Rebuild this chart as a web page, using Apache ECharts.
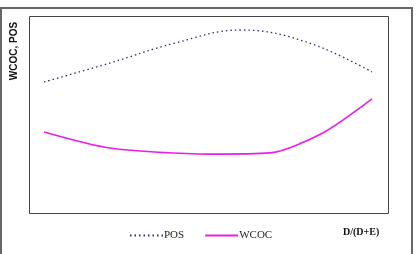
<!DOCTYPE html>
<html>
<head>
<meta charset="utf-8">
<script src="https://cdn.jsdelivr.net/npm/echarts@6/dist/echarts.min.js"></script>
<style>
html, body { margin: 0; padding: 0; background: #fff; }
#chart { width: 417px; height: 254px; }
</style>
</head>
<body>
<div id="chart"></div>
<script>
// D/(D+E) positions (no tick labels in the original, scaled 0..1)
const ratio = [0, 0.2, 0.4, 0.6, 0.8, 1.0];
const posValues = [66.5, 76.1, 86.3, 92.9, 86.8, 71.6];
const wcocRatio = [0, 0.2, 0.5, 0.69, 0.85, 1.0];
const wcocValues = [41.1, 33.0, 29.9, 30.5, 40.6, 57.9];

const chart = echarts.init(document.getElementById("chart"));

chart.setOption({
    animation: false,
    grid: { left: 29, right: 28, top: 16, bottom: 41 },
    xAxis: {
        type: "value",
        min: -0.046,
        max: 1.052,
        axisLine: { show: false },
        axisTick: { show: false },
        axisLabel: { show: false },
        splitLine: { show: false },
    },
    yAxis: {
        type: "value",
        min: 0,
        max: 100,
        axisLine: { show: false },
        axisTick: { show: false },
        axisLabel: { show: false },
        splitLine: { show: false },
    },
    legend: {
        left: 124,
        top: 225,
        itemWidth: 33,
        itemHeight: 10,
        itemGap: 20,
        itemStyle: { opacity: 0 },
        textStyle: {
            fontFamily: "Liberation Serif",
            fontSize: 11,
            color: "#222",
            padding: [0, 0, 0, -4],
        },
        data: ["POS", "WCOC"],
    },
    graphic: [
        {
            type: "rect",
            shape: { x: 1, y: 8, width: 411, height: 260 },
            style: { fill: "none", stroke: "#666", lineWidth: 2 },
        },
        {
            type: "rect",
            shape: { x: 29.5, y: 16.5, width: 359, height: 197 },
            style: { fill: "none", stroke: "#444", lineWidth: 1 },
        },
        {
            type: "text",
            x: 14,
            y: 51,
            rotation: Math.PI / 2,
            style: {
                text: "WCOC, POS",
                fontFamily: "Liberation Sans",
                fontWeight: "bold",
                fontSize: 10,
                fill: "#111",
                textAlign: "center",
                textVerticalAlign: "middle",
            },
        },
        {
            type: "text",
            x: 343,
            y: 232,
            style: {
                text: "D/(D+E)",
                fontFamily: "Liberation Serif",
                fontWeight: "bold",
                fontSize: 10,
                fill: "#111",
                textAlign: "left",
                textVerticalAlign: "middle",
            },
        },
    ],
    series: [
        {
            name: "POS",
            type: "line",
            smooth: 0.4,
            symbol: "none",
            data: ratio.map((x, i) => [x, posValues[i]]),
            itemStyle: { color: "#2e2e6e" },
            lineStyle: { color: "#2e2e6e", width: 1.3, type: [1.5, 3] },
        },
        {
            name: "WCOC",
            type: "line",
            smooth: 0.25,
            symbol: "none",
            data: wcocRatio.map((x, i) => [x, wcocValues[i]]),
            itemStyle: { color: "#e81ee8" },
            lineStyle: { color: "#e81ee8", width: 1.6 },
        },
    ],
});
</script>
</body>
</html>
